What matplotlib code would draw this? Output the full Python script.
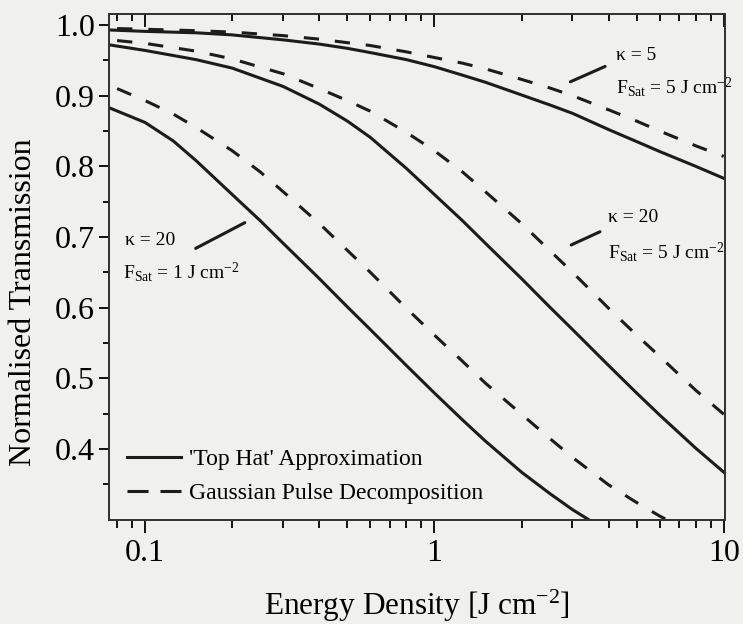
import matplotlib
matplotlib.use("Agg")
import matplotlib.pyplot as plt
from matplotlib.ticker import FixedLocator, NullFormatter
from matplotlib.lines import Line2D

plt.rcParams['font.family'] = ['Liberation Serif', 'DejaVu Serif']
plt.rcParams['mathtext.fontset'] = 'custom'
plt.rcParams['mathtext.rm'] = 'Liberation Serif'
plt.rcParams['mathtext.it'] = 'Liberation Serif:italic'

# ---- data ----
# kappa = 5, F_sat = 5 J cm^-2
topA_x = [0.075, 0.1, 0.15, 0.2, 0.3, 0.4, 0.5, 0.6, 0.8, 1.0, 1.25, 1.5, 2.0, 2.5, 3.0, 4.0, 5.0, 6.0, 8.0, 10.0]
topA_y = [0.993, 0.991, 0.989, 0.986, 0.979, 0.973, 0.967, 0.961, 0.951, 0.941, 0.929, 0.919, 0.901, 0.887,
          0.875, 0.852, 0.835, 0.821, 0.800, 0.783]
gauA_x = [0.08, 0.1, 0.15, 0.2, 0.3, 0.4, 0.5, 0.6, 0.8, 1.0, 1.25, 1.5, 2.0, 2.5, 3.0, 4.0, 5.0, 6.0, 8.0, 10.0]
gauA_y = [0.995, 0.994, 0.992, 0.990, 0.985, 0.980, 0.975, 0.971, 0.962, 0.954, 0.946, 0.938, 0.923, 0.911,
          0.900, 0.880, 0.864, 0.850, 0.829, 0.814]

# kappa = 20, F_sat = 5 J cm^-2
topB_x = [0.075, 0.1, 0.15, 0.2, 0.3, 0.4, 0.5, 0.6, 0.8, 1.0, 1.25, 1.5, 2.0, 2.5, 3.0, 4.0, 5.0, 6.0, 8.0, 10.0]
topB_y = [0.972, 0.964, 0.951, 0.939, 0.913, 0.888, 0.864, 0.841, 0.797, 0.760, 0.723, 0.691, 0.641, 0.601,
          0.569, 0.518, 0.479, 0.448, 0.401, 0.367]
gauB_x = [0.08, 0.1, 0.15, 0.2, 0.3, 0.4, 0.5, 0.6, 0.8, 1.0, 1.25, 1.5, 2.0, 2.5, 3.0, 4.0, 5.0, 6.0, 8.0, 10.0]
gauB_y = [0.978, 0.974, 0.963, 0.952, 0.931, 0.910, 0.893, 0.878, 0.848, 0.822, 0.792, 0.764, 0.719, 0.681,
          0.650, 0.599, 0.561, 0.531, 0.483, 0.449]

# kappa = 20, F_sat = 1 J cm^-2
topC_x = [0.075, 0.1, 0.125, 0.15, 0.2, 0.25, 0.3, 0.4, 0.5, 0.6, 0.8, 1.0, 1.25, 1.5, 2.0, 2.5, 3.0, 3.5]
topC_y = [0.883, 0.862, 0.836, 0.808, 0.760, 0.723, 0.691, 0.641, 0.601, 0.569, 0.518, 0.479, 0.441, 0.411,
          0.367, 0.337, 0.314, 0.297]
gauC_x = [0.08, 0.1, 0.125, 0.15, 0.2, 0.25, 0.3, 0.4, 0.5, 0.6, 0.8, 1.0, 1.25, 1.5, 2.0, 2.5, 3.0, 4.0,
          5.0, 6.0, 6.4]
gauC_y = [0.910, 0.893, 0.874, 0.855, 0.822, 0.792, 0.764, 0.719, 0.681, 0.650, 0.599, 0.561, 0.524, 0.493,
          0.449, 0.415, 0.388, 0.349, 0.324, 0.305, 0.299]

legend_labels = ["'Top Hat' Approximation", "Gaussian Pulse Decomposition"]
x_ticks = [0.1, 1, 10]
x_ticklabels = ["0.1", "1", "10"]
y_ticks = [0.4, 0.5, 0.6, 0.7, 0.8, 0.9, 1.0]
y_ticklabels = ["0.4", "0.5", "0.6", "0.7", "0.8", "0.9", "1.0"]

bg = '#f0f0ef'
lc = '#1c1c1c'

fig = plt.figure(figsize=(7.43, 6.24), dpi=100, facecolor=bg)
ax = fig.add_axes([109/743, 1-520/624, (725-109)/743, (520-14)/624])
ax.set_facecolor(bg)

lw = 2.2
dash = (0, (5.0, 5.2))
ax.plot(topA_x, topA_y, color=lc, lw=lw)
ax.plot(gauA_x, gauA_y, color=lc, lw=lw, linestyle=dash)
ax.plot(topB_x, topB_y, color=lc, lw=lw)
ax.plot(gauB_x, gauB_y, color=lc, lw=lw, linestyle=dash)
ax.plot(topC_x, topC_y, color=lc, lw=lw)
ax.plot(gauC_x, gauC_y, color=lc, lw=lw, linestyle=dash)

xlim = (0.075, 10.1)
ax.set_xscale('log')
ax.set_xlim(*xlim)
ax.set_ylim(0.2993, 1.0156)

minor_x = [m * d for d in (0.01, 0.1, 1) for m in range(2, 10)]
ax.xaxis.set_major_locator(FixedLocator(x_ticks))
ax.set_xticklabels(x_ticklabels)
ax.xaxis.set_minor_locator(FixedLocator(minor_x))
ax.xaxis.set_minor_formatter(NullFormatter())
ax.yaxis.set_major_locator(FixedLocator(y_ticks))
ax.set_yticklabels(y_ticklabels)
ax.yaxis.set_minor_locator(FixedLocator([0.35, 0.45, 0.55, 0.65, 0.75, 0.85, 0.95]))

for s in ax.spines.values():
    s.set_linewidth(1.3)
    s.set_color('#333333')

ax.tick_params(axis='x', which='major', direction='out', length=9, width=1.3,
               labelsize=23, pad=5, top=False, bottom=True)
ax.tick_params(axis='x', which='minor', direction='out', length=6, width=1.3,
               top=False, bottom=True)
ax.tick_params(axis='y', which='major', direction='out', length=7, width=1.3,
               labelsize=23, pad=3, right=False)
ax.tick_params(axis='y', which='minor', direction='out', length=4, width=1.3, right=False)

# inward ticks on the top edge
ax2 = ax.twiny()
ax2.set_xscale('log')
ax2.set_xlim(*xlim)
ax2.xaxis.set_major_locator(FixedLocator(x_ticks))
ax2.xaxis.set_minor_locator(FixedLocator(minor_x))
ax2.xaxis.set_major_formatter(NullFormatter())
ax2.xaxis.set_minor_formatter(NullFormatter())
ax2.tick_params(axis='x', which='major', direction='in', length=9, width=1.3, labeltop=False)
ax2.tick_params(axis='x', which='minor', direction='in', length=5, width=1.3, labeltop=False)
for s in ax2.spines.values():
    s.set_linewidth(1.3)
    s.set_color('#333333')

ax.set_xlabel('Energy Density [J cm$^{\\mathregular{-2}}$]', fontsize=22.5, labelpad=14)
ax.set_ylabel('Normalised Transmission', fontsize=23)
ax.yaxis.set_label_coords(-0.115, (520 - 302) / 506)

handles = [Line2D([], [], color=lc, lw=lw),
           Line2D([], [], color=lc, lw=lw, linestyle=(0, (6.9, 3.9)))]
leg = ax.legend(handles, legend_labels, loc='lower left', bbox_to_anchor=(0.029, 0.032),
                frameon=False, fontsize=17, handlelength=2.3, handletextpad=0.35,
                labelspacing=0.5, borderaxespad=0.0, borderpad=0.0)

fs = 14
ax.annotate('', xy=(2.89, 0.918), xytext=(3.97, 0.943),
            arrowprops=dict(arrowstyle='-', color=lc, lw=2.2))
ax.text(4.23, 0.957, 'κ = 5', fontsize=fs, va='center', ha='left')
ax.text(4.23, 0.912, 'F$_{\\mathregular{Sat}}$ = 5 J cm$^{\\mathregular{-2}}$', fontsize=fs,
        va='center', ha='left')

ax.annotate('', xy=(2.91, 0.687), xytext=(3.81, 0.709),
            arrowprops=dict(arrowstyle='-', color=lc, lw=2.2))
ax.text(3.97, 0.728, 'κ = 20', fontsize=fs, va='center', ha='left')
ax.text(3.97, 0.679, 'F$_{\\mathregular{Sat}}$ = 5 J cm$^{\\mathregular{-2}}$', fontsize=fs,
        va='center', ha='left')

ax.annotate('', xy=(0.2254, 0.722), xytext=(0.1466, 0.682),
            arrowprops=dict(arrowstyle='-', color=lc, lw=2.2))
ax.text(0.0853, 0.695, 'κ = 20', fontsize=fs, va='center', ha='left')
ax.text(0.0839, 0.650, 'F$_{\\mathregular{Sat}}$ = 1 J cm$^{\\mathregular{-2}}$', fontsize=fs,
        va='center', ha='left')

fig.savefig('out.png', dpi=100, facecolor=bg)
